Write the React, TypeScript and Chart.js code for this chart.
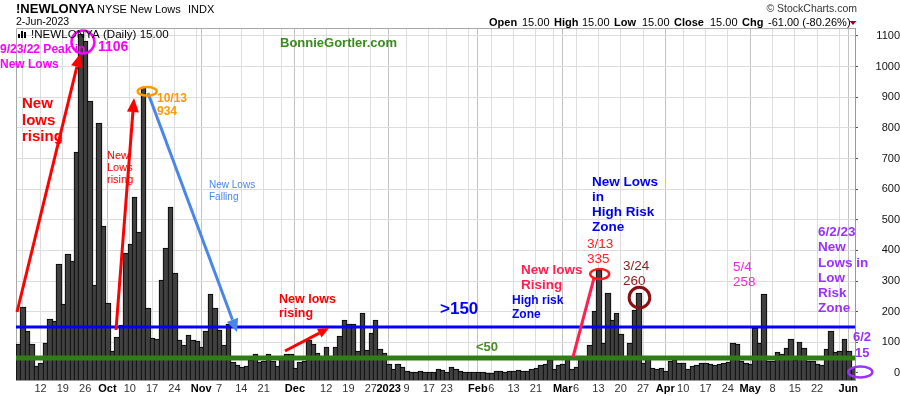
import React, { useEffect, useRef } from 'react';
import { Chart, registerables } from 'chart.js';

Chart.register(...registerables);

const FONT = '"Liberation Sans", Arial, Helvetica, sans-serif';

// Trading days, Sep 2 2022 .. Jun 2 2023
const MONTH_DAYS: [string, number[]][] = [
  ['Sep', [2, 6, 7, 8, 9, 12, 13, 14, 15, 16, 19, 20, 21, 22, 23, 26, 27, 28, 29, 30]],
  ['Oct', [3, 4, 5, 6, 7, 10, 11, 12, 13, 14, 17, 18, 19, 20, 21, 24, 25, 26, 27, 28, 31]],
  ['Nov', [1, 2, 3, 4, 7, 8, 9, 10, 11, 14, 15, 16, 17, 18, 21, 22, 23, 25, 28, 29, 30]],
  ['Dec', [1, 2, 5, 6, 7, 8, 9, 12, 13, 14, 15, 16, 19, 20, 21, 22, 23, 27, 28, 29, 30]],
  ['Jan', [3, 4, 5, 6, 9, 10, 11, 12, 13, 17, 18, 19, 20, 23, 24, 25, 26, 27, 30, 31]],
  ['Feb', [1, 2, 3, 6, 7, 8, 9, 10, 13, 14, 15, 16, 17, 21, 22, 23, 24, 27, 28]],
  ['Mar', [1, 2, 3, 6, 7, 8, 9, 10, 13, 14, 15, 16, 17, 20, 21, 22, 23, 24, 27, 28, 29, 30, 31]],
  ['Apr', [3, 4, 5, 6, 10, 11, 12, 13, 14, 17, 18, 19, 20, 21, 24, 25, 26, 27, 28]],
  ['May', [1, 2, 3, 4, 5, 8, 9, 10, 11, 12, 15, 16, 17, 18, 19, 22, 23, 24, 25, 26, 30, 31]],
  ['Jun', [1, 2]],
];
const CATEGORIES: string[] = MONTH_DAYS.flatMap(([m, days]) => days.map((d) => `${m} ${d}`));

// NYSE new lows (daily)
const NEW_LOWS: number[] = [
  // Sep
  95, 215, 137, 95, 22, 32, 98, 176, 170, 356, 225, 388, 367, 720, 1106, 1085, 889, 287, 815, 480,
  // Oct
  228, 72, 118, 156, 392, 420, 575, 460, 934, 212, 114, 111, 304, 408, 542, 326, 108, 91, 124, 108, 104,
  // Nov
  85, 137, 258, 212, 140, 91, 160, 36, 26, 21, 23, 42, 62, 37, 40, 62, 40, 24, 45, 62, 62,
  // Dec
  17, 37, 38, 108, 95, 65, 57, 86, 57, 86, 122, 173, 160, 160, 72, 196, 75, 130, 173, 78, 65,
  // Jan
  30, 13, 28, 21, 7, 2, 3, 5, 3, 4, 4, 12, 10, 4, 18, 14, 6, 4, 3, 2,
  // Feb
  3, 3, 1, 1, 5, 5, 2, 5, 8, 9, 7, 5, 12, 17, 26, 29, 42, 14, 26,
  // Mar
  30, 48, 14, 18, 55, 50, 91, 202, 335, 98, 262, 173, 195, 127, 55, 99, 206, 260, 33, 52, 16, 13, 17,
  // Apr
  8, 38, 42, 32, 32, 12, 23, 26, 34, 32, 29, 26, 29, 32, 36, 98, 95, 40, 32,
  // May
  29, 148, 98, 258, 39, 39, 70, 62, 82, 111, 42, 101, 82, 39, 39, 29, 26, 78, 137, 70, 72, 111,
  // Jun
  72, 15,
];

const Y_TICKS: number[] = [0, 50, 100, 150, 200, 250, 300, 350, 400, 450, 500, 550, 600, 650, 700, 750, 800, 850, 900, 950, 1000, 1050, 1100];
const Y_MIN = -22.85;
const Y_MAX = 1126;
const HIGH_RISK_LEVEL = 150;
const LOW_RISK_LEVEL = 50;

const X_TICKS: [string, string][] = [
  ['Sep 12', '12'], ['Sep 19', '19'], ['Sep 26', '26'], ['Oct 3', 'Oct'], ['Oct 10', '10'], ['Oct 17', '17'], ['Oct 24', '24'],
  ['Nov 1', 'Nov'], ['Nov 7', '7'], ['Nov 14', '14'], ['Nov 21', '21'], ['Dec 1', 'Dec'], ['Dec 12', '12'], ['Dec 19', '19'],
  ['Dec 27', '27'], ['Jan 3', '2023'], ['Jan 9', '9'], ['Jan 17', '17'], ['Jan 23', '23'], ['Feb 1', 'Feb'], ['Feb 6', '6'],
  ['Feb 13', '13'], ['Feb 21', '21'], ['Mar 1', 'Mar'], ['Mar 6', '6'], ['Mar 13', '13'], ['Mar 20', '20'], ['Mar 27', '27'],
  ['Apr 3', 'Apr'], ['Apr 10', '10'], ['Apr 17', '17'], ['Apr 24', '24'], ['May 1', 'May'], ['May 8', '8'], ['May 15', '15'],
  ['May 22', '22'], ['Jun 1', 'Jun'],
];
const EXTRA_GRID: string[] = ['Sep 6', 'Oct 31', 'Nov 28', 'Dec 5', 'Jan 30', 'Feb 27', 'May 30'];
const MONTH_STARTS: string[] = ['Oct 3', 'Nov 1', 'Dec 1', 'Jan 3', 'Feb 1', 'Mar 1', 'Apr 3', 'May 1', 'Jun 1'];

type Txt = { t: string; x: number; y: number; f: string; c: string; a?: CanvasTextAlign };

const ANNOT_TEXT: Txt[] = [
  { t: '9/23/22 Peak in', x: 0, y: 50, f: 'bold 12px', c: '#ff00ff' },
  { t: 'New Lows', x: 0, y: 64.5, f: 'bold 12px', c: '#ff00ff' },
  { t: '1106', x: 98, y: 47, f: 'bold 14px', c: '#ff00ff' },
  { t: 'New', x: 22, y: 104, f: 'bold 15px', c: '#ff0000' },
  { t: 'lows', x: 22, y: 120.5, f: 'bold 15px', c: '#ff0000' },
  { t: 'rising', x: 22, y: 136.5, f: 'bold 15px', c: '#ff0000' },
  { t: 'New', x: 107, y: 156, f: '11px', c: '#ff0000' },
  { t: 'Lows', x: 107, y: 168, f: '11px', c: '#ff0000' },
  { t: 'rising', x: 107, y: 179.5, f: '11px', c: '#ff0000' },
  { t: '10/13', x: 157, y: 99, f: 'bold 12px', c: '#ff9900' },
  { t: '934', x: 157, y: 112, f: 'bold 12px', c: '#ff9900' },
  { t: 'New Lows', x: 209, y: 185, f: '10px', c: '#4a86e8' },
  { t: 'Falling', x: 209, y: 197, f: '10px', c: '#4a86e8' },
  { t: 'BonnieGortler.com', x: 280, y: 43, f: 'bold 13px', c: '#3a8a1c' },
  { t: 'New lows', x: 279, y: 300, f: 'bold 12.5px', c: '#ff0000' },
  { t: 'rising', x: 279, y: 313.5, f: 'bold 12.5px', c: '#ff0000' },
  { t: '>150', x: 440, y: 309, f: 'bold 17px', c: '#0000ff' },
  { t: 'High risk', x: 512, y: 301, f: 'bold 12px', c: '#0000ff' },
  { t: 'Zone', x: 512, y: 315, f: 'bold 12px', c: '#0000ff' },
  { t: '<50', x: 476, y: 347, f: 'bold 13px', c: '#4a8a2a' },
  { t: 'New lows', x: 521, y: 270, f: 'bold 13.5px', c: '#ff2050' },
  { t: 'Rising', x: 521, y: 285, f: 'bold 13.5px', c: '#ff2050' },
  { t: '3/13', x: 587, y: 244, f: '13.5px', c: '#ff2020' },
  { t: '335', x: 587, y: 259, f: '13.5px', c: '#ff2020' },
  { t: '3/24', x: 623, y: 266, f: '13.5px', c: '#8b1a1a' },
  { t: '260', x: 623, y: 281, f: '13.5px', c: '#8b1a1a' },
  { t: 'New Lows', x: 592, y: 182.5, f: 'bold 13.5px', c: '#0000ee' },
  { t: 'in', x: 592, y: 197.5, f: 'bold 13.5px', c: '#0000ee' },
  { t: 'High Risk', x: 592, y: 212.5, f: 'bold 13.5px', c: '#0000ee' },
  { t: 'Zone', x: 592, y: 227.5, f: 'bold 13.5px', c: '#0000ee' },
  { t: '5/4', x: 733, y: 267.5, f: '13.5px', c: '#f02ae0' },
  { t: '258', x: 733, y: 282, f: '13.5px', c: '#f02ae0' },
  { t: '6/2/23', x: 818, y: 232, f: 'bold 13.5px', c: '#9b30ff' },
  { t: 'New', x: 818, y: 247.5, f: 'bold 13.5px', c: '#9b30ff' },
  { t: 'Lows in', x: 818, y: 263, f: 'bold 13.5px', c: '#9b30ff' },
  { t: 'Low', x: 818, y: 278, f: 'bold 13.5px', c: '#9b30ff' },
  { t: 'Risk', x: 818, y: 293, f: 'bold 13.5px', c: '#9b30ff' },
  { t: 'Zone', x: 818, y: 308, f: 'bold 13.5px', c: '#9b30ff' },
  { t: '6/2', x: 853, y: 337.5, f: 'bold 13px', c: '#9b30ff' },
  { t: '15', x: 855, y: 353, f: 'bold 13px', c: '#9b30ff' },
];

const HEADER_TEXT: Txt[] = [
  { t: '!NEWLONYA', x: 16, y: 9.5, f: 'bold 13px', c: '#000' },
  { t: 'NYSE New Lows', x: 97, y: 10, f: '11px', c: '#000' },
  { t: 'INDX', x: 188, y: 10, f: '11px', c: '#000' },
  { t: '2-Jun-2023', x: 16, y: 22.5, f: '10.5px', c: '#000' },
  { t: '\u00A9 StockCharts.com', x: 857, y: 9, f: '10.5px', c: '#333', a: 'right' },
  { t: 'Open', x: 489, y: 22.5, f: 'bold 11px', c: '#000' },
  { t: '15.00', x: 522, y: 22.5, f: '11px', c: '#000' },
  { t: 'High', x: 554, y: 22.5, f: 'bold 11px', c: '#000' },
  { t: '15.00', x: 582, y: 22.5, f: '11px', c: '#000' },
  { t: 'Low', x: 614, y: 22.5, f: 'bold 11px', c: '#000' },
  { t: '15.00', x: 642, y: 22.5, f: '11px', c: '#000' },
  { t: 'Close', x: 674, y: 22.5, f: 'bold 11px', c: '#000' },
  { t: '15.00', x: 710, y: 22.5, f: '11px', c: '#000' },
  { t: 'Chg', x: 742, y: 22.5, f: 'bold 11px', c: '#000' },
  { t: '-61.00 (-80.26%)', x: 768, y: 22.5, f: '11px', c: '#000' },
  { t: '!NEWLONYA (Daily) 15.00', x: 31, y: 35, f: '11.6px', c: '#000' },
];

function drawText(ctx: CanvasRenderingContext2D, list: Txt[]) {
  list.forEach((d) => {
    ctx.font = `${d.f} ${FONT}`;
    ctx.fillStyle = d.c;
    ctx.textAlign = d.a || 'left';
    ctx.textBaseline = 'middle';
    ctx.fillText(d.t, d.x, d.y);
  });
}

function arrow(ctx: CanvasRenderingContext2D, x1: number, y1: number, x2: number, y2: number, color: string, lw: number, head: number, hw: number) {
  const ang = Math.atan2(y2 - y1, x2 - x1);
  const bx = x2 - head * Math.cos(ang);
  const by = y2 - head * Math.sin(ang);
  ctx.strokeStyle = color;
  ctx.lineWidth = lw;
  ctx.lineCap = 'butt';
  ctx.beginPath();
  ctx.moveTo(x1, y1);
  ctx.lineTo(bx, by);
  ctx.stroke();
  ctx.fillStyle = color;
  ctx.beginPath();
  ctx.moveTo(x2, y2);
  ctx.lineTo(bx + hw * Math.sin(ang), by - hw * Math.cos(ang));
  ctx.lineTo(bx - hw * Math.sin(ang), by + hw * Math.cos(ang));
  ctx.closePath();
  ctx.fill();
}

function ellipse(ctx: CanvasRenderingContext2D, cx: number, cy: number, rx: number, ry: number, color: string, lw: number) {
  ctx.strokeStyle = color;
  ctx.lineWidth = lw;
  ctx.beginPath();
  ctx.ellipse(cx, cy, rx, ry, 0, 0, Math.PI * 2);
  ctx.stroke();
}

const overlay = {
  id: 'overlay',
  beforeDatasetsDraw(chart: any) {
    const { ctx, chartArea: a } = chart;
    // snap library-computed bar rectangles to whole pixels so the outlines stay crisp
    const meta = chart.getDatasetMeta(0);
    meta.data.forEach((el: any) => {
      if (!el.$orig) el.$orig = { x: el.x, width: el.width, y: el.y, base: el.base };
      const o = el.$orig;
      const l = Math.round(o.x - o.width / 2);
      const r = Math.round(o.x + o.width / 2) + 1;
      el.x = (l + r) / 2;
      el.width = r - l;
      el.y = Math.round(o.y);
      el.base = Math.round(o.base);
      el.height = el.base - el.y;
    });
    ctx.save();
    ctx.strokeStyle = '#a8a8a8';
    ctx.lineWidth = 1;
    ctx.beginPath();
    ctx.moveTo(a.left + 0.5, a.bottom);
    ctx.lineTo(a.left + 0.5, a.top + 0.5);
    ctx.lineTo(a.right, a.top + 0.5);
    ctx.stroke();
    ctx.restore();
  },
  afterDatasetsDraw(chart: any) {
    const { ctx, chartArea: a, scales } = chart;
    const xs = scales.x;
    const ys = scales.y;
    const x0 = xs.getPixelForValue(0);
    const step = xs.getPixelForValue(1) - x0;
    const X = (i: number) => x0 + i * step;
    const Y = (v: number) => ys.getPixelForValue(v);
    ctx.save();
    // threshold lines
    ctx.fillStyle = '#2f7d16';
    ctx.fillRect(a.left, Math.round(Y(LOW_RISK_LEVEL)) - 2.5, a.right - a.left, 5);
    ctx.fillStyle = '#0000ff';
    ctx.fillRect(a.left, Math.round(Y(HIGH_RISK_LEVEL)) - 1.5, a.right - a.left, 3);

    // arrows
    arrow(ctx, 17, 312, 80, 54, '#ff0000', 3, 13, 6);
    arrow(ctx, 116, 330, 134, 98, '#ff0000', 3, 14, 6);
    arrow(ctx, 148, 93, 237, 332, '#4a86e8', 3, 13, 6);
    arrow(ctx, 285, 351, 329, 328, '#ff0000', 3, 11, 5);
    ctx.strokeStyle = '#ff2050';
    ctx.lineWidth = 3;
    ctx.beginPath();
    ctx.moveTo(573, 357);
    ctx.lineTo(594, 278);
    ctx.stroke();

    // circles anchored to bars
    ellipse(ctx, X(14.5), Y(1080), 11.5, 11.5, '#ff00ff', 2.5);
    ellipse(ctx, X(28.9), Y(919), 9.5, 4.3, '#ff9900', 2.5);
    ellipse(ctx, X(130.3), Y(323), 9.5, 5, '#ff1a1a', 2.5);
    ellipse(ctx, X(139.2), Y(246), 10.3, 10.3, '#8b1010', 3);
    ellipse(ctx, X(188.7), Y(3), 12, 5.5, '#9b30ff', 2.5);

    drawText(ctx, ANNOT_TEXT);
    ctx.restore();
  },
  afterDraw(chart: any) {
    const { ctx } = chart;
    ctx.save();
    drawText(ctx, HEADER_TEXT);
    // down triangle
    ctx.fillStyle = '#990033';
    ctx.beginPath();
    ctx.moveTo(849.5, 21);
    ctx.lineTo(856.5, 21);
    ctx.lineTo(853, 25);
    ctx.closePath();
    ctx.fill();
    // small bar icon
    ctx.fillStyle = '#000';
    ctx.fillRect(18, 34, 2, 4);
    ctx.fillRect(21, 31, 2, 7);
    ctx.fillRect(24, 32, 2, 6);
    ctx.restore();
  },
};

export default function App() {
  const ref = useRef<HTMLCanvasElement>(null);
  useEffect(() => {
    const canvas = ref.current;
    if (!canvas) return;
    const tickIndex = new Map<number, string>();
    X_TICKS.forEach(([d, l]) => tickIndex.set(CATEGORIES.indexOf(d), l));
    const boldIdx = new Set<number>();
    X_TICKS.forEach(([d, l]) => {
      if (!/^\d{1,2}$/.test(l)) boldIdx.add(CATEGORIES.indexOf(d));
    });
    const gridIdx = new Set<number>([...tickIndex.keys(), ...EXTRA_GRID.map((d) => CATEGORIES.indexOf(d))]);
    const monthIdx = new Set<number>(MONTH_STARTS.map((d) => CATEGORIES.indexOf(d)));

    const chart = new Chart(canvas, {
      type: 'bar',
      data: {
        labels: CATEGORIES,
        datasets: [
          {
            data: NEW_LOWS,
            base: Y_MIN,
            backgroundColor: '#404040',
            borderColor: '#000000',
            borderWidth: 1,
            barPercentage: 1,
            categoryPercentage: 1,
          } as any,
        ],
      },
      options: {
        responsive: false,
        animation: false,
        events: [],
        layout: { padding: { top: 28, left: 16, right: 0, bottom: 0 } },
        plugins: { legend: { display: false }, tooltip: { enabled: false }, title: { display: false } },
        scales: {
          x: {
            type: 'category',
            offset: true,
            grid: {
              offset: false,
              drawTicks: false,
              lineWidth: 1,
              color: (c: any) => (monthIdx.has(c.index) ? '#c2c2c2' : gridIdx.has(c.index) ? '#dddddd' : 'rgba(0,0,0,0)'),
            },
            border: { display: true, color: '#999999' },
            ticks: {
              autoSkip: false,
              maxRotation: 0,
              minRotation: 0,
              padding: 2,
              callback: (_v: any, i: number) => tickIndex.get(i) ?? '',
              font: (c: any) => ({ family: FONT, size: 11, weight: boldIdx.has(c.index) ? 'bold' : 'normal' }),
              color: (c: any) => (boldIdx.has(c.index) ? '#000000' : '#333333'),
            },
            afterFit: (s: any) => {
              s.height = 16;
            },
          },
          y: {
            position: 'right',
            min: Y_MIN,
            max: Y_MAX,
            afterBuildTicks: (s: any) => {
              s.ticks = Y_TICKS.map((v) => ({ value: v }));
            },
            grid: { color: '#dcdcdc', lineWidth: 1, tickLength: 3, tickColor: '#555555' },
            border: { display: true, color: '#999999' },
            ticks: {
              padding: 1,
              crossAlign: 'far',
              font: { family: FONT, size: 11 },
              color: '#111111',
              callback: (v: any) => String(v),
            },
            afterFit: (s: any) => {
              s.width = 45;
            },
          },
        },
      } as any,
      plugins: [overlay],
    });
    return () => chart.destroy();
  }, []);

  return (
    <div style={{ position: 'absolute', left: 0, top: 0, width: 900, height: 396, background: '#ffffff' }}>
      <canvas ref={ref} width={900} height={396} style={{ display: 'block' }} />
    </div>
  );
}
